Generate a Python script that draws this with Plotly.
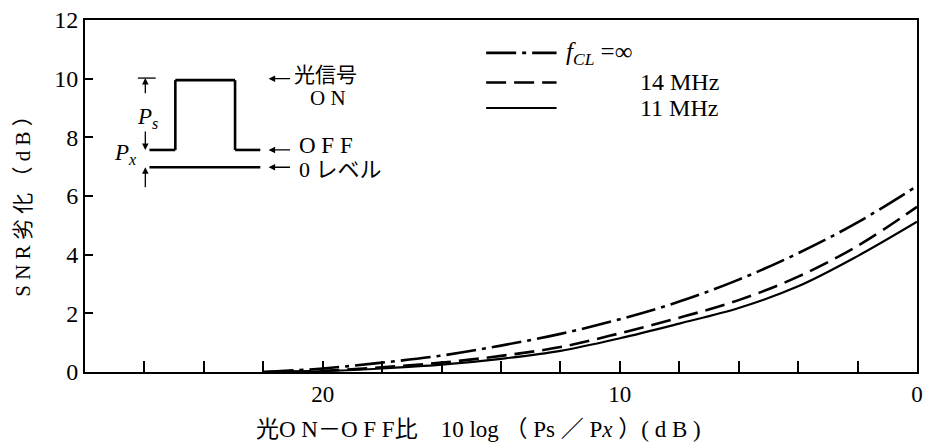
import plotly.graph_objects as go

# ---- data ----
x_db = [22, 20, 18, 16, 14, 12, 10, 8, 6, 4, 2, 0]
snr_inf = [0.0, 0.12, 0.32, 0.56, 0.90, 1.30, 1.80, 2.40, 3.15, 4.05, 5.10, 6.34]
snr_14 = [0.0, 0.04, 0.16, 0.32, 0.55, 0.85, 1.32, 1.85, 2.45, 3.25, 4.30, 5.63]
snr_11 = [0.0, 0.03, 0.12, 0.25, 0.45, 0.72, 1.15, 1.65, 2.18, 2.92, 3.95, 5.12]

series_names = ["f_CL=∞", "14MHz", "11MHz"]
x_tickvals = [0, 10, 20]
x_ticktext = ["0", "10", "20"]
x_minor_vals = list(range(0, 28, 2))
y_tickvals = list(range(0, 13, 2))

FONT = "Liberation Serif, 'Noto Sans CJK JP', serif"
DASHDOT = "30px,6px,4px,6px"
DASHED = "20px,8px"
NB = "\u00a0"

fig = go.Figure()
fig.add_trace(go.Scatter(x=x_db, y=snr_inf, mode="lines", name=series_names[0],
                         line=dict(color="black", width=2.6, dash=DASHDOT, shape="spline")))
fig.add_trace(go.Scatter(x=x_db, y=snr_14, mode="lines", name=series_names[1],
                         line=dict(color="black", width=2.6, dash=DASHED, shape="spline")))
fig.add_trace(go.Scatter(x=x_db, y=snr_11, mode="lines", name=series_names[2],
                         line=dict(color="black", width=2.2, shape="spline")))

shapes = []
ann = []

def seg(x0, y0, x1, y1, w=2.6, dash="solid"):
    shapes.append(dict(type="line", xref="x", yref="y", x0=x0, y0=y0, x1=x1, y1=y1,
                       line=dict(color="black", width=w, dash=dash)))

def arrow(xh, yh, xt, yt, w=1.3):
    ann.append(dict(x=xh, y=yh, ax=xt, ay=yt, xref="x", yref="y", axref="x", ayref="y",
                    showarrow=True, arrowhead=2, arrowsize=1.0, arrowwidth=w,
                    arrowcolor="black", text=""))

def text(x, y, t, size=19, xanchor="left"):
    ann.append(dict(x=x, y=y, xref="x", yref="y", text=t, showarrow=False,
                    xanchor=xanchor, yanchor="middle", font=dict(family=FONT, size=size, color="black")))

# ---- inset: pulse diagram ----
seg(25.83, 7.57, 24.96, 7.57)
seg(24.96, 7.57, 24.96, 9.95)
seg(24.96, 9.95, 22.95, 9.95)
seg(22.95, 9.95, 22.95, 7.57)
seg(22.95, 7.57, 22.10, 7.57)
seg(25.83, 6.98, 22.10, 6.98)
# dimension marks
seg(26.22, 10.02, 25.62, 10.02, w=1.3)
arrow(25.97, 10.02, 25.97, 9.45)
arrow(25.97, 7.57, 25.97, 8.25)
arrow(25.97, 6.98, 25.97, 6.25)
text(25.90, 8.65, "<i>P<sub>s</sub></i>", size=23, xanchor="center")
text(26.63, 7.42, "<i>P<sub>x</sub></i>", size=23, xanchor="center")
# level labels
arrow(21.82, 10.0, 21.05, 10.0)
arrow(21.82, 7.57, 21.05, 7.57)
arrow(21.82, 6.98, 21.05, 6.98)
text(21.05, 10.12, "光信号", size=21)
text(19.81, 9.33, "O N", size=21, xanchor="center")
text(20.88, 7.71, "O F F", size=23)
text(20.88, 6.90, "0 レベル", size=22)

# ---- legend (drawn) ----
seg(14.5, 10.88, 12.13, 10.88, w=2.6, dash=DASHDOT)
seg(14.5, 9.87, 12.13, 9.87, w=2.6, dash=DASHED)
seg(14.5, 9.00, 12.13, 9.00, w=2.2)
text(11.89, 10.85, "<i>f</i><sub><i>CL</i></sub> =∞", size=25)
text(9.39, 9.88, "14 MHz", size=24)
text(9.39, 9.00, "11 MHz", size=24)

# ---- axis titles ----
ann.append(dict(x=-0.074, y=0.485, xref="paper", yref="paper", text="S N R 劣 化 （ d B ）",
                textangle=-90, showarrow=False, xanchor="center", yanchor="middle",
                font=dict(family=FONT, size=21, color="black")))
ann.append(dict(x=0.473, y=-0.162, xref="paper", yref="paper",
                text="光O N－O F F比" + NB * 4 + "10" + NB + "log" + NB + "（" + NB + "Ps" + NB + "／" + NB
                     + "P<i>x</i>" + NB + "）(" + NB + "d" + NB + "B" + NB + ")",
                showarrow=False, xanchor="center", yanchor="middle",
                font=dict(family=FONT, size=23, color="black")))

fig.update_layout(
    width=930, height=444,
    margin=dict(l=85, r=7, t=15, b=72),
    paper_bgcolor="white", plot_bgcolor="white",
    showlegend=False,
    shapes=shapes, annotations=ann,
    font=dict(family=FONT, color="black"),
)
fig.update_xaxes(range=[28, 0], tickvals=x_tickvals, ticktext=x_ticktext,
                 ticks="inside", ticklen=11, tickwidth=1.5, tickcolor="black",
                 minor=dict(tickvals=x_minor_vals, ticks="inside", ticklen=11,
                            tickwidth=1.5, tickcolor="black", showgrid=False),
                 showline=True, linewidth=2, linecolor="black", mirror=True,
                 showgrid=False, zeroline=False,
                 tickfont=dict(family=FONT, size=23, color="black"))
fig.update_yaxes(range=[0, 12], tickvals=y_tickvals,
                 ticks="inside", ticklen=8, tickwidth=1.5, tickcolor="black",
                 showline=True, linewidth=2, linecolor="black", mirror=True,
                 showgrid=False, zeroline=False,
                 tickfont=dict(family=FONT, size=24, color="black"))

fig.write_html("out.html", config={"displayModeBar": False},
               post_script="document.body.style.margin='0px';document.body.style.overflow='hidden';")
